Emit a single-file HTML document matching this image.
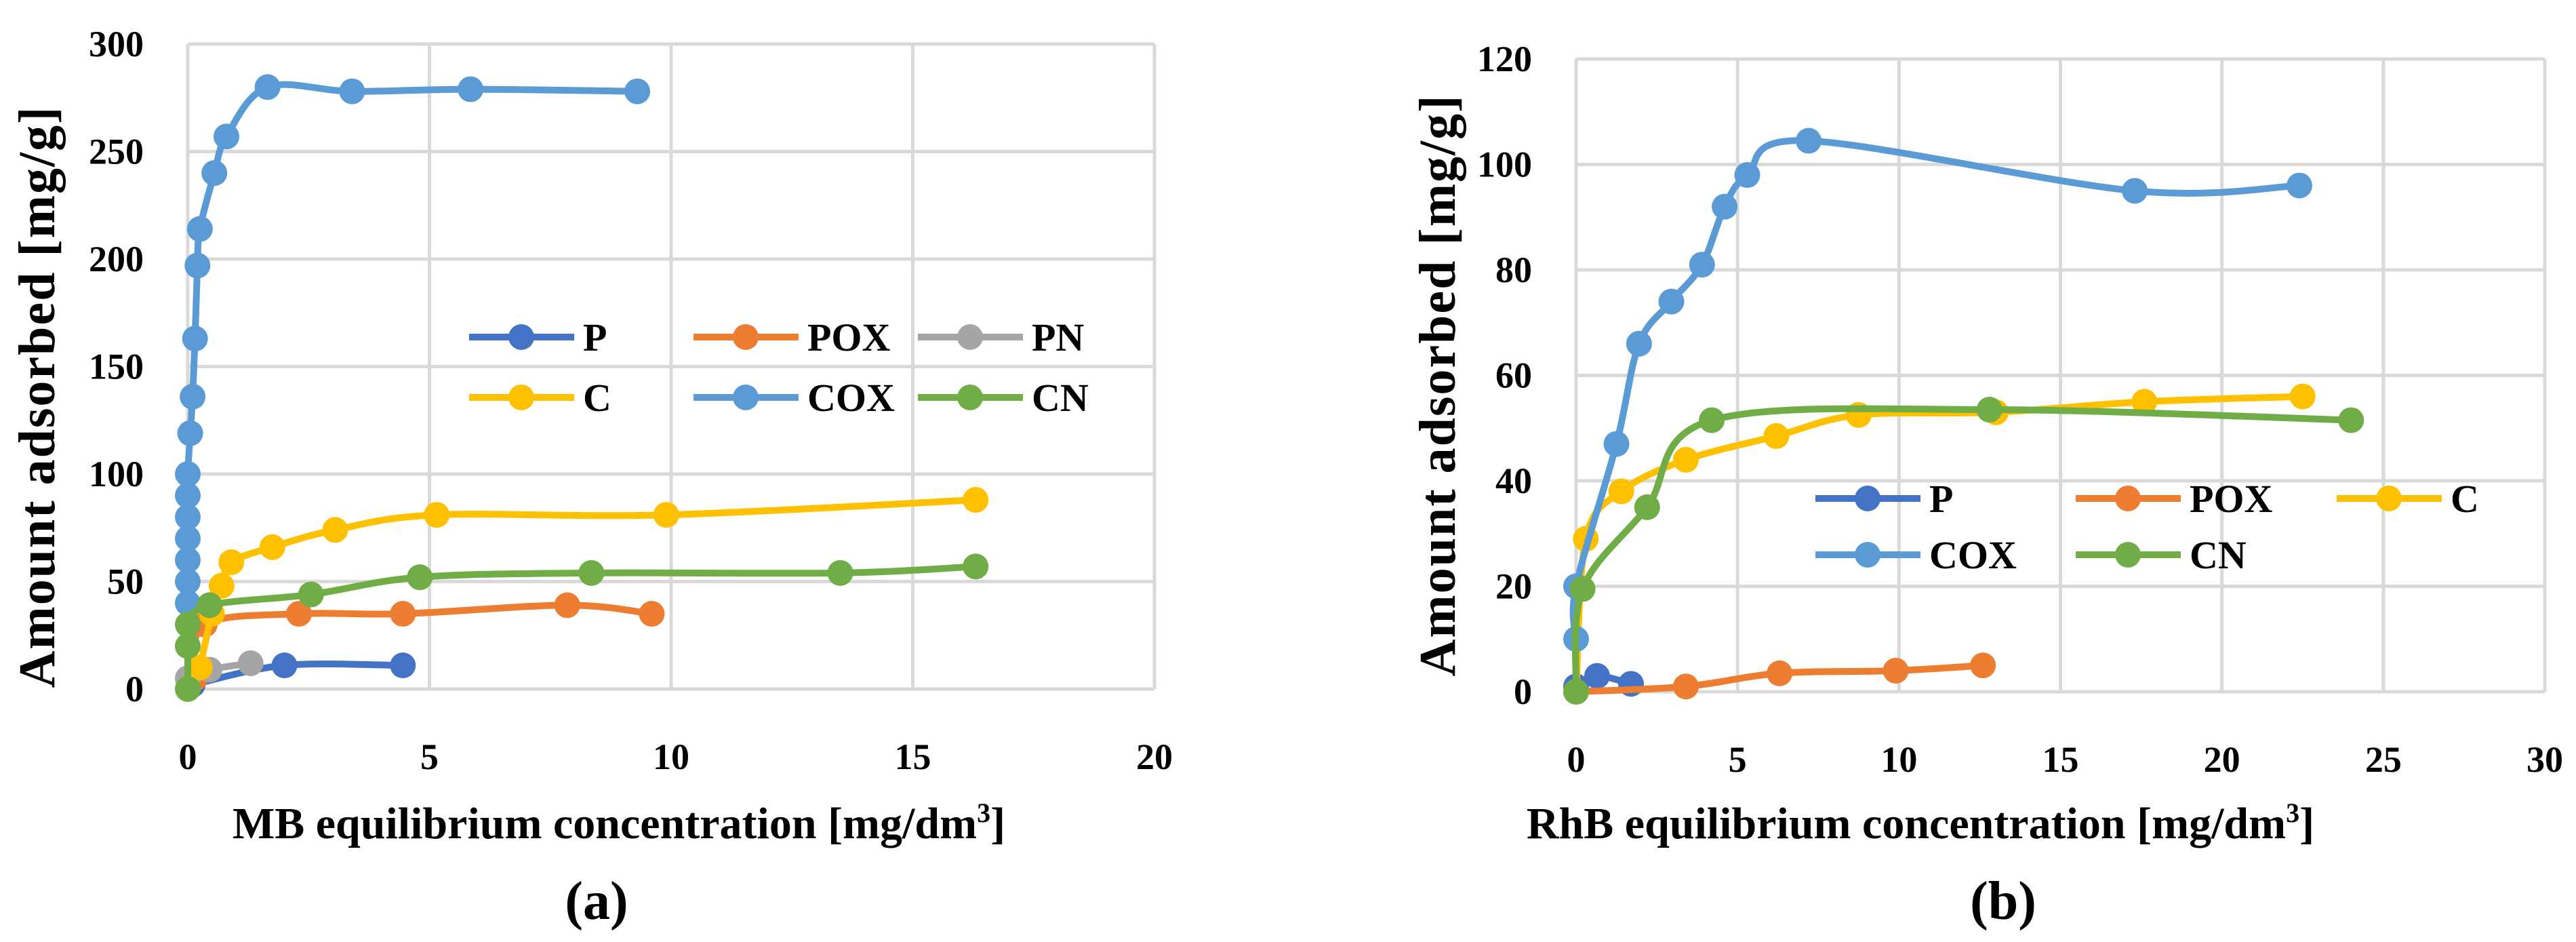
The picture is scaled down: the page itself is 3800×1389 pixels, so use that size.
<!DOCTYPE html>
<html><head><meta charset="utf-8"><style>
html,body{margin:0;padding:0;background:#fff}
svg text{font-family:"Liberation Serif",serif;font-weight:bold;fill:#000}
</style></head><body>
<svg id="s" width="3800" height="1384" viewBox="0 0 3800 1384" xmlns="http://www.w3.org/2000/svg"></svg>
<script>
const seriesNames=["P","POX","PN","C","COX","CN"];
const colors={P:"#4472C4",POX:"#ED7D31",PN:"#A5A5A5",C:"#FFC000",COX:"#5B9BD5",CN:"#70AD47"};
// Chart A data (MB)
const aP_x=[0.1,2,4.45], aP_y=[2,11,11];
const aPOX_x=[0.15,0.35,2.3,4.45,7.85,9.6], aPOX_y=[5,30,35,35,39,35];
const aPN_x=[0,0.45,1.3], aPN_y=[5,9,12];
const aC_x=[0.25,0.5,0.7,0.9,1.75,3.05,5.15,9.9,16.3], aC_y=[10,35,48,59,66,74,81,81,88];
const aCOX_x=[0,0,0,0,0,0,0,0.05,0.1,0.15,0.2,0.25,0.55,0.8,1.65,3.4,5.85,9.3];
const aCOX_y=[40,50,60,70,80,90,100,119,136,163,197,214,240,257,280,278,279,278];
const aCN_x=[0,0,0,0.45,2.55,4.8,8.35,13.5,16.3], aCN_y=[0,20,30,39,44,52,54,54,57];
const aXTicks=[0,5,10,15,20], aYTicks=[0,50,100,150,200,250,300];
// Chart B data (RhB)
const bP_x=[0,0.65,1.7], bP_y=[1,3,1.5];
const bPOX_x=[0,3.4,6.3,9.9,12.6], bPOX_y=[0,1,3.5,4,5];
const bC_x=[0,0.3,1.4,3.4,6.2,8.75,13,17.6,22.5], bC_y=[0,29,38,44,48.5,52.5,53,55,56];
const bCOX_x=[0,0,1.25,1.95,2.95,3.9,4.6,5.3,7.2,17.3,22.4], bCOX_y=[10,20,47,66,74,81,92,98,104.5,95,96];
const bCN_x=[0,0.2,2.2,4.2,12.8,24], bCN_y=[0,19.5,35,51.5,53.5,51.5];
const bXTicks=[0,5,10,15,20,25,30], bYTicks=[0,20,40,60,80,100,120];

const NS="http://www.w3.org/2000/svg";
const svg=document.getElementById("s");
function mk(tag,attrs,parent){const e=document.createElementNS(NS,tag);for(const k in attrs)e.setAttribute(k,attrs[k]);(parent||svg).appendChild(e);return e;}
function smoothPath(pts){
  if(pts.length<2)return "";
  let d="M"+pts[0][0]+","+pts[0][1];
  for(let i=0;i<pts.length-1;i++){
    const p0=pts[i-1]||pts[i],p1=pts[i],p2=pts[i+1],p3=pts[i+2]||p2;
    const t=0.5/3;
    const c1=[p1[0]+(p2[0]-p0[0])*t,p1[1]+(p2[1]-p0[1])*t];
    const c2=[p2[0]-(p3[0]-p1[0])*t,p2[1]-(p3[1]-p1[1])*t];
    d+=" C"+c1[0]+","+c1[1]+" "+c2[0]+","+c2[1]+" "+p2[0]+","+p2[1];
  }
  return d;
}
function chart(cfg){
  const g=mk("g",{});
  
  
  const xmax=cfg.xt[cfg.xt.length-1], ymax=cfg.yt[cfg.yt.length-1];
  const X=v=>cfg.x0+(cfg.x1-cfg.x0)*v/xmax;
  const Y=v=>cfg.y0-(cfg.y0-cfg.y1)*v/ymax;
  cfg.yt.forEach(v=>{
    const l=mk("line",{x1:cfg.x0,x2:cfg.x1,y1:Y(v),y2:Y(v),stroke:"#d9d9d9","stroke-width":5},g);
    
    
    const t=mk("text",{x:cfg.x0-65,y:Y(v)+18,"font-size":54,"text-anchor":"end"},g);
    
    
    t.textContent=v;
  });
  cfg.xt.forEach(v=>{
    const l=mk("line",{x1:X(v),x2:X(v),y1:cfg.y0,y2:cfg.y1,stroke:"#d9d9d9","stroke-width":5},g);
    
    
    const t=mk("text",{x:X(v),y:cfg.y0+118,"font-size":54,"text-anchor":"middle"},g);
    
    
    t.textContent=v;
  });
  cfg.series.forEach(s=>{
    const pts=s.x.map((v,i)=>[X(v),Y(s.y[i])]);
    const p=mk("path",{d:smoothPath(pts),fill:"none",stroke:colors[s.n],"stroke-width":10,"stroke-linejoin":"round"},g);
    
    
    pts.forEach(q=>{
      const c=mk("circle",{cx:q[0],cy:q[1],r:19,fill:colors[s.n]},g);
      
      
    });
  });
  cfg.legend.forEach(e=>{
    const lg=mk("g",{},g);
    
    
    mk("line",{x1:e.lx,x2:e.lx+155,y1:e.y,y2:e.y,stroke:colors[e.n],"stroke-width":10},lg);
    mk("circle",{cx:e.lx+77,cy:e.y,r:19,fill:colors[e.n]},lg);
    const t=mk("text",{x:e.lx+168,y:e.y+20,"font-size":58},lg);
    t.textContent=e.n;
  });
  const yt=mk("text",{x:0,y:0,"font-size":76,"text-anchor":"middle",transform:`translate(${cfg.ytx},${cfg.yty}) rotate(-90)`,"letter-spacing":"2"},g);
  
  
  yt.textContent="Amount adsorbed [mg/g]";
  const xt=mk("text",{x:cfg.xtx,y:1236,"font-size":66,"text-anchor":"middle"},g);
  
  
  xt.innerHTML=cfg.xtitle+" equilibrium concentration [mg/dm<tspan font-size='40' dy='-24'>3</tspan><tspan dy='24'>]</tspan>";
  const cap=mk("text",{x:cfg.capx,y:1355,"font-size":80,"text-anchor":"middle","font-weight":"normal"},g);
  
  
  cap.innerHTML="(<tspan font-weight='bold'>"+cfg.cap+"</tspan>)";
}
chart({name:"chart-mb",x0:277,x1:1703,y0:1016,y1:65,xt:aXTicks,yt:aYTicks,ytx:80,yty:585,xtx:913,xtitle:"MB",capx:880,cap:"a",
 series:[{n:"P",x:aP_x,y:aP_y},{n:"POX",x:aPOX_x,y:aPOX_y},{n:"PN",x:aPN_x,y:aPN_y},{n:"C",x:aC_x,y:aC_y},{n:"COX",x:aCOX_x,y:aCOX_y},{n:"CN",x:aCN_x,y:aCN_y}],
 legend:[{n:"P",lx:692,y:497},{n:"POX",lx:1023,y:497},{n:"PN",lx:1354,y:497},{n:"C",lx:692,y:586},{n:"COX",lx:1023,y:586},{n:"CN",lx:1354,y:586}]});
chart({name:"chart-rhb",x0:2325,x1:3754,y0:1020,y1:87,xt:bXTicks,yt:bYTicks,ytx:2146,yty:568,xtx:2833,xtitle:"RhB",capx:2955,cap:"b",
 series:[{n:"P",x:bP_x,y:bP_y},{n:"POX",x:bPOX_x,y:bPOX_y},{n:"C",x:bC_x,y:bC_y},{n:"COX",x:bCOX_x,y:bCOX_y},{n:"CN",x:bCN_x,y:bCN_y}],
 legend:[{n:"P",lx:2678,y:735},{n:"POX",lx:3062,y:735},{n:"C",lx:3447,y:735},{n:"COX",lx:2678,y:818},{n:"CN",lx:3062,y:818}]});
</script>
</body></html>
